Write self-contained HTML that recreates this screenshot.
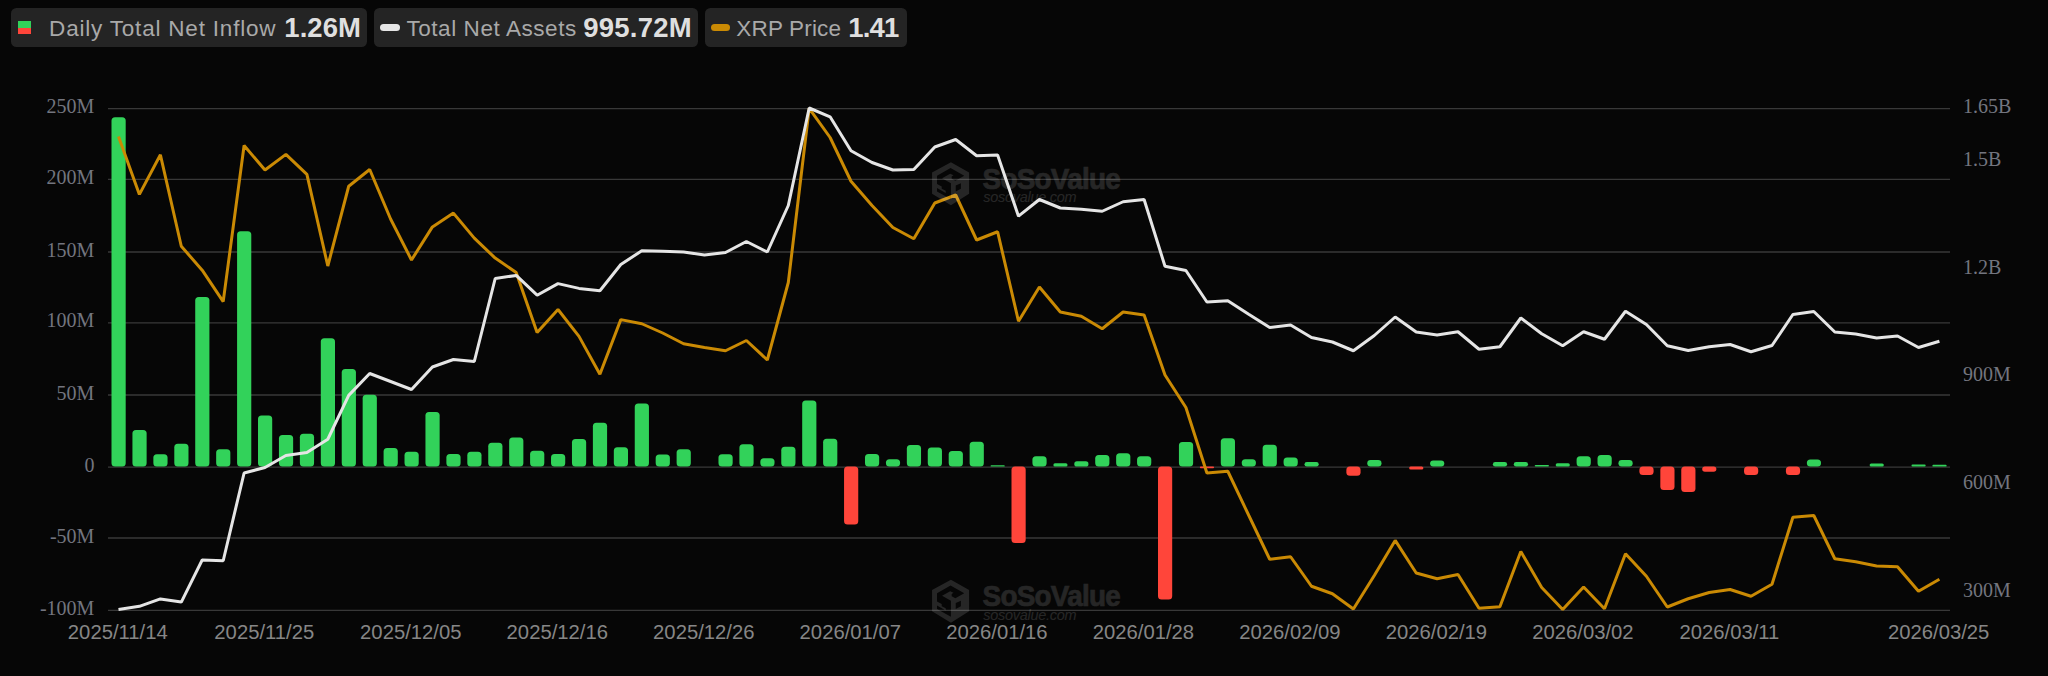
<!DOCTYPE html>
<html lang="en"><head><meta charset="utf-8"><title>XRP ETF Net Inflow</title>
<style>
html,body{margin:0;padding:0;background:#060606;}
body{width:2048px;height:676px;position:relative;overflow:hidden;font-family:"Liberation Sans",sans-serif;}
.chart{position:absolute;left:0;top:0;}
.yl{font-family:"Liberation Serif",serif;font-size:20px;fill:#73757f;}
.xl{font-family:"Liberation Sans",sans-serif;font-size:20.25px;fill:#868686;}
.wm1{font-family:"Liberation Sans",sans-serif;font-weight:700;font-size:29.6px;letter-spacing:-0.75px;stroke:#fff;stroke-width:0.7px;}
.wm2{font-family:"Liberation Sans",sans-serif;font-style:italic;font-size:14.5px;letter-spacing:-0.27px;}
.pill{position:absolute;top:8px;height:38.5px;background:#242424;border-radius:5.5px;}
.pill span{position:absolute;white-space:nowrap;line-height:1;}
.lab{font-size:22.5px;color:#a9a9a9;top:10px;}
.val{font-size:27.5px;font-weight:700;color:#dfdfdf;top:6.0px;}
.ic{position:absolute;}
</style></head><body>
<svg class="chart" width="2048" height="676" viewBox="0 0 2048 676">
<line x1="108" x2="1950" y1="108.6" y2="108.6" stroke="#383838" stroke-width="1.3"/>
<line x1="108" x2="1950" y1="179.4" y2="179.4" stroke="#383838" stroke-width="1.3"/>
<line x1="108" x2="1950" y1="252" y2="252" stroke="#383838" stroke-width="1.3"/>
<line x1="108" x2="1950" y1="322.8" y2="322.8" stroke="#383838" stroke-width="1.3"/>
<line x1="108" x2="1950" y1="395" y2="395" stroke="#383838" stroke-width="1.3"/>
<line x1="108" x2="1950" y1="467.2" y2="467.2" stroke="#383838" stroke-width="1.3"/>
<line x1="108" x2="1950" y1="538" y2="538" stroke="#383838" stroke-width="1.3"/>
<line x1="108" x2="1950" y1="610.4" y2="610.4" stroke="#383838" stroke-width="1.3"/>
<rect x="111.50" y="117.25" width="14.2" height="349.35" rx="3.50" fill="#32d25a"/>
<rect x="132.43" y="430.00" width="14.2" height="36.60" rx="3.50" fill="#32d25a"/>
<rect x="153.36" y="454.25" width="14.2" height="12.35" rx="3.50" fill="#32d25a"/>
<rect x="174.29" y="443.75" width="14.2" height="22.85" rx="3.50" fill="#32d25a"/>
<rect x="195.22" y="297.00" width="14.2" height="169.60" rx="3.50" fill="#32d25a"/>
<rect x="216.15" y="449.25" width="14.2" height="17.35" rx="3.50" fill="#32d25a"/>
<rect x="237.08" y="231.25" width="14.2" height="235.35" rx="3.50" fill="#32d25a"/>
<rect x="258.01" y="415.50" width="14.2" height="51.10" rx="3.50" fill="#32d25a"/>
<rect x="278.94" y="435.00" width="14.2" height="31.60" rx="3.50" fill="#32d25a"/>
<rect x="299.87" y="433.75" width="14.2" height="32.85" rx="3.50" fill="#32d25a"/>
<rect x="320.80" y="338.25" width="14.2" height="128.35" rx="3.50" fill="#32d25a"/>
<rect x="341.73" y="369.00" width="14.2" height="97.60" rx="3.50" fill="#32d25a"/>
<rect x="362.66" y="394.80" width="14.2" height="71.80" rx="3.50" fill="#32d25a"/>
<rect x="383.59" y="448.00" width="14.2" height="18.60" rx="3.50" fill="#32d25a"/>
<rect x="404.52" y="451.75" width="14.2" height="14.85" rx="3.50" fill="#32d25a"/>
<rect x="425.45" y="412.00" width="14.2" height="54.60" rx="3.50" fill="#32d25a"/>
<rect x="446.38" y="454.00" width="14.2" height="12.60" rx="3.50" fill="#32d25a"/>
<rect x="467.31" y="451.75" width="14.2" height="14.85" rx="3.50" fill="#32d25a"/>
<rect x="488.24" y="442.80" width="14.2" height="23.80" rx="3.50" fill="#32d25a"/>
<rect x="509.17" y="437.50" width="14.2" height="29.10" rx="3.50" fill="#32d25a"/>
<rect x="530.10" y="450.75" width="14.2" height="15.85" rx="3.50" fill="#32d25a"/>
<rect x="551.03" y="454.00" width="14.2" height="12.60" rx="3.50" fill="#32d25a"/>
<rect x="571.96" y="439.00" width="14.2" height="27.60" rx="3.50" fill="#32d25a"/>
<rect x="592.89" y="422.75" width="14.2" height="43.85" rx="3.50" fill="#32d25a"/>
<rect x="613.82" y="447.25" width="14.2" height="19.35" rx="3.50" fill="#32d25a"/>
<rect x="634.75" y="403.50" width="14.2" height="63.10" rx="3.50" fill="#32d25a"/>
<rect x="655.68" y="454.50" width="14.2" height="12.10" rx="3.50" fill="#32d25a"/>
<rect x="676.61" y="449.25" width="14.2" height="17.35" rx="3.50" fill="#32d25a"/>
<rect x="718.47" y="454.25" width="14.2" height="12.35" rx="3.50" fill="#32d25a"/>
<rect x="739.40" y="444.25" width="14.2" height="22.35" rx="3.50" fill="#32d25a"/>
<rect x="760.33" y="458.25" width="14.2" height="8.35" rx="3.50" fill="#32d25a"/>
<rect x="781.26" y="446.75" width="14.2" height="19.85" rx="3.50" fill="#32d25a"/>
<rect x="802.19" y="400.50" width="14.2" height="66.10" rx="3.50" fill="#32d25a"/>
<rect x="823.12" y="438.75" width="14.2" height="27.85" rx="3.50" fill="#32d25a"/>
<rect x="844.05" y="466.40" width="14.2" height="58.10" rx="3.50" fill="#ff453a"/>
<rect x="864.98" y="454.00" width="14.2" height="12.60" rx="3.50" fill="#32d25a"/>
<rect x="885.91" y="459.25" width="14.2" height="7.35" rx="3.50" fill="#32d25a"/>
<rect x="906.84" y="445.00" width="14.2" height="21.60" rx="3.50" fill="#32d25a"/>
<rect x="927.77" y="447.50" width="14.2" height="19.10" rx="3.50" fill="#32d25a"/>
<rect x="948.70" y="451.00" width="14.2" height="15.60" rx="3.50" fill="#32d25a"/>
<rect x="969.63" y="441.75" width="14.2" height="24.85" rx="3.50" fill="#32d25a"/>
<rect x="990.56" y="465.20" width="14.2" height="1.40" rx="0.70" fill="#32d25a"/>
<rect x="1011.49" y="466.40" width="14.2" height="76.60" rx="3.50" fill="#ff453a"/>
<rect x="1032.42" y="456.25" width="14.2" height="10.35" rx="3.50" fill="#32d25a"/>
<rect x="1053.35" y="463.25" width="14.2" height="3.35" rx="1.68" fill="#32d25a"/>
<rect x="1074.28" y="461.25" width="14.2" height="5.35" rx="2.68" fill="#32d25a"/>
<rect x="1095.21" y="455.00" width="14.2" height="11.60" rx="3.50" fill="#32d25a"/>
<rect x="1116.14" y="453.25" width="14.2" height="13.35" rx="3.50" fill="#32d25a"/>
<rect x="1137.07" y="456.25" width="14.2" height="10.35" rx="3.50" fill="#32d25a"/>
<rect x="1158.00" y="466.40" width="14.2" height="133.10" rx="3.50" fill="#ff453a"/>
<rect x="1178.93" y="442.00" width="14.2" height="24.60" rx="3.50" fill="#32d25a"/>
<rect x="1199.86" y="466.40" width="14.2" height="1.80" rx="0.90" fill="#ff453a"/>
<rect x="1220.79" y="438.25" width="14.2" height="28.35" rx="3.50" fill="#32d25a"/>
<rect x="1241.72" y="459.25" width="14.2" height="7.35" rx="3.50" fill="#32d25a"/>
<rect x="1262.65" y="444.75" width="14.2" height="21.85" rx="3.50" fill="#32d25a"/>
<rect x="1283.58" y="457.50" width="14.2" height="9.10" rx="3.50" fill="#32d25a"/>
<rect x="1304.51" y="462.00" width="14.2" height="4.60" rx="2.30" fill="#32d25a"/>
<rect x="1346.37" y="466.40" width="14.2" height="9.35" rx="3.50" fill="#ff453a"/>
<rect x="1367.30" y="460.00" width="14.2" height="6.60" rx="3.30" fill="#32d25a"/>
<rect x="1409.16" y="466.40" width="14.2" height="3.10" rx="1.55" fill="#ff453a"/>
<rect x="1430.09" y="460.50" width="14.2" height="6.10" rx="3.05" fill="#32d25a"/>
<rect x="1492.88" y="462.00" width="14.2" height="4.60" rx="2.30" fill="#32d25a"/>
<rect x="1513.81" y="462.00" width="14.2" height="4.60" rx="2.30" fill="#32d25a"/>
<rect x="1534.74" y="465.00" width="14.2" height="1.60" rx="0.80" fill="#32d25a"/>
<rect x="1555.67" y="463.25" width="14.2" height="3.35" rx="1.68" fill="#32d25a"/>
<rect x="1576.60" y="456.25" width="14.2" height="10.35" rx="3.50" fill="#32d25a"/>
<rect x="1597.53" y="455.00" width="14.2" height="11.60" rx="3.50" fill="#32d25a"/>
<rect x="1618.46" y="460.00" width="14.2" height="6.60" rx="3.30" fill="#32d25a"/>
<rect x="1639.39" y="466.40" width="14.2" height="8.60" rx="3.50" fill="#ff453a"/>
<rect x="1660.32" y="466.40" width="14.2" height="23.60" rx="3.50" fill="#ff453a"/>
<rect x="1681.25" y="466.40" width="14.2" height="25.60" rx="3.50" fill="#ff453a"/>
<rect x="1702.18" y="466.40" width="14.2" height="5.35" rx="2.68" fill="#ff453a"/>
<rect x="1744.04" y="466.40" width="14.2" height="8.60" rx="3.50" fill="#ff453a"/>
<rect x="1785.90" y="466.40" width="14.2" height="8.60" rx="3.50" fill="#ff453a"/>
<rect x="1806.83" y="459.50" width="14.2" height="7.10" rx="3.50" fill="#32d25a"/>
<rect x="1869.62" y="463.50" width="14.2" height="3.10" rx="1.55" fill="#32d25a"/>
<rect x="1911.48" y="464.50" width="14.2" height="2.10" rx="1.05" fill="#32d25a"/>
<rect x="1932.41" y="464.75" width="14.2" height="1.85" rx="0.93" fill="#32d25a"/>
<path d="M118.5 136.40 L139.4 194.40 L160.4 154.80 L181.3 246.25 L202.2 270.20 L223.2 301.60 L244.1 145.50 L265.0 170.00 L285.9 154.40 L306.9 174.40 L327.8 266.00 L348.7 186.25 L369.7 169.50 L390.6 219.00 L411.5 260.00 L432.4 226.90 L453.4 213.10 L474.3 238.10 L495.2 258.10 L516.2 272.50 L537.1 332.50 L558.0 309.50 L579.0 336.40 L599.9 374.30 L620.8 319.60 L641.8 323.75 L662.7 333.00 L683.6 343.75 L704.5 347.50 L725.5 350.75 L746.4 340.50 L767.3 360.00 L788.3 282.50 L809.2 108.30 L830.1 137.50 L851.0 181.25 L872.0 205.50 L892.9 227.50 L913.8 238.75 L934.8 203.00 L955.7 195.00 L976.6 240.00 L997.6 231.75 L1018.5 321.25 L1039.4 287.00 L1060.3 312.00 L1081.3 316.25 L1102.2 328.75 L1123.1 312.00 L1144.1 315.00 L1165.0 375.00 L1185.9 407.50 L1206.9 473.00 L1227.8 471.25 L1248.7 515.25 L1269.7 559.25 L1290.6 556.75 L1311.5 586.25 L1332.4 593.75 L1353.4 609.00 L1374.3 575.50 L1395.2 540.40 L1416.2 573.00 L1437.1 578.75 L1458.0 574.50 L1479.0 608.25 L1499.9 606.75 L1520.8 551.50 L1541.7 587.50 L1562.7 609.50 L1583.6 587.00 L1604.5 608.75 L1625.5 553.75 L1646.4 576.25 L1667.3 607.00 L1688.2 598.75 L1709.2 592.50 L1730.1 589.50 L1751.0 596.25 L1772.0 584.25 L1792.9 517.25 L1813.8 515.50 L1834.8 558.75 L1855.7 561.75 L1876.6 566.00 L1897.5 566.75 L1918.5 591.25 L1939.4 579.25" fill="none" stroke="#ca8a04" stroke-width="3" stroke-linejoin="bevel" stroke-linecap="butt"/>
<path d="M118.5 609.50 L139.4 606.30 L160.4 598.90 L181.3 602.10 L202.2 560.00 L223.2 560.75 L244.1 473.00 L265.0 467.50 L285.9 455.50 L306.9 452.50 L327.8 439.25 L348.7 395.40 L369.7 373.50 L390.6 381.50 L411.5 389.50 L432.4 367.00 L453.4 359.50 L474.3 361.50 L495.2 278.50 L516.2 275.40 L537.1 295.20 L558.0 283.60 L579.0 288.40 L599.9 290.80 L620.8 264.50 L641.8 250.75 L662.7 251.25 L683.6 251.90 L704.5 255.10 L725.5 252.50 L746.4 241.50 L767.3 252.00 L788.3 205.50 L809.2 108.00 L830.1 116.80 L851.0 150.75 L872.0 162.50 L892.9 170.00 L913.8 169.50 L934.8 147.00 L955.7 139.50 L976.6 155.75 L997.6 155.00 L1018.5 216.20 L1039.4 199.50 L1060.3 208.00 L1081.3 209.25 L1102.2 211.25 L1123.1 201.75 L1144.1 199.50 L1165.0 266.25 L1185.9 270.50 L1206.9 302.00 L1227.8 300.75 L1248.7 314.25 L1269.7 327.50 L1290.6 325.00 L1311.5 337.50 L1332.4 342.00 L1353.4 350.75 L1374.3 335.50 L1395.2 317.00 L1416.2 332.00 L1437.1 335.00 L1458.0 331.75 L1479.0 349.25 L1499.9 346.75 L1520.8 318.00 L1541.7 333.75 L1562.7 345.75 L1583.6 331.75 L1604.5 339.25 L1625.5 311.25 L1646.4 324.50 L1667.3 345.75 L1688.2 350.50 L1709.2 346.75 L1730.1 344.50 L1751.0 351.75 L1772.0 345.50 L1792.9 314.50 L1813.8 311.50 L1834.8 332.00 L1855.7 334.00 L1876.6 338.00 L1897.5 336.00 L1918.5 347.50 L1939.4 341.25" fill="none" stroke="#e5e5e5" stroke-width="3" stroke-linejoin="bevel" stroke-linecap="butt"/>
<text class="yl" x="94.4" y="113.1" text-anchor="end">250M</text>
<text class="yl" x="94.4" y="183.9" text-anchor="end">200M</text>
<text class="yl" x="94.4" y="256.5" text-anchor="end">150M</text>
<text class="yl" x="94.4" y="327.3" text-anchor="end">100M</text>
<text class="yl" x="94.4" y="399.5" text-anchor="end">50M</text>
<text class="yl" x="94.4" y="471.7" text-anchor="end">0</text>
<text class="yl" x="94.4" y="542.5" text-anchor="end">-50M</text>
<text class="yl" x="94.4" y="614.9" text-anchor="end">-100M</text>
<text class="yl" x="1963" y="113.3">1.65B</text>
<text class="yl" x="1963" y="166.3">1.5B</text>
<text class="yl" x="1963" y="273.5">1.2B</text>
<text class="yl" x="1963" y="381.0">900M</text>
<text class="yl" x="1963" y="488.7">600M</text>
<text class="yl" x="1963" y="596.7">300M</text>
<text class="xl" x="117.8" y="639.2" text-anchor="middle">2025/11/14</text>
<text class="xl" x="264.3" y="639.2" text-anchor="middle">2025/11/25</text>
<text class="xl" x="410.8" y="639.2" text-anchor="middle">2025/12/05</text>
<text class="xl" x="557.3" y="639.2" text-anchor="middle">2025/12/16</text>
<text class="xl" x="703.8" y="639.2" text-anchor="middle">2025/12/26</text>
<text class="xl" x="850.3" y="639.2" text-anchor="middle">2026/01/07</text>
<text class="xl" x="996.9" y="639.2" text-anchor="middle">2026/01/16</text>
<text class="xl" x="1143.4" y="639.2" text-anchor="middle">2026/01/28</text>
<text class="xl" x="1289.9" y="639.2" text-anchor="middle">2026/02/09</text>
<text class="xl" x="1436.4" y="639.2" text-anchor="middle">2026/02/19</text>
<text class="xl" x="1582.9" y="639.2" text-anchor="middle">2026/03/02</text>
<text class="xl" x="1729.4" y="639.2" text-anchor="middle">2026/03/11</text>
<text class="xl" x="1938.7" y="639.2" text-anchor="middle">2026/03/25</text>
<g transform="translate(932 162.3)" fill="#ffffff" opacity="0.125">
<path fill-rule="evenodd" d="M18.93 0 L37.1 10.25 L37.1 31.55 L18.93 42.85 L0.05 31.55 L0.05 10.25 Z M5.02 13.36 L18.56 5.67 L32.24 13.36 L23.37 18.39 L19.67 16.54 L19.67 14.32 L21.52 13.06 L18.19 11.36 L10.05 16.02 L18.93 20.98 L18.93 36.9 L5.02 29.1 Z M5.02 21.7 L9.7 24.2 L9.7 26.4 L13.7 28.5 L13.7 30.6 L5.02 25.8 Z M23.74 23.2 L28.9 20.98 L28.9 26.5 L23.74 29.1 Z"/>
<text class="wm1" transform="translate(50.6 26.2) scale(0.94 1)">SoSoValue</text>
<text class="wm2" x="51.2" y="40.05">sosovalue.com</text>
</g>
<g transform="translate(932 579.8)" fill="#ffffff" opacity="0.125">
<path fill-rule="evenodd" d="M18.93 0 L37.1 10.25 L37.1 31.55 L18.93 42.85 L0.05 31.55 L0.05 10.25 Z M5.02 13.36 L18.56 5.67 L32.24 13.36 L23.37 18.39 L19.67 16.54 L19.67 14.32 L21.52 13.06 L18.19 11.36 L10.05 16.02 L18.93 20.98 L18.93 36.9 L5.02 29.1 Z M5.02 21.7 L9.7 24.2 L9.7 26.4 L13.7 28.5 L13.7 30.6 L5.02 25.8 Z M23.74 23.2 L28.9 20.98 L28.9 26.5 L23.74 29.1 Z"/>
<text class="wm1" transform="translate(50.6 26.2) scale(0.94 1)">SoSoValue</text>
<text class="wm2" x="51.2" y="40.05">sosovalue.com</text>
</g>
</svg>
<div class="pill" style="left:11.3px;width:356.2px"><i class="ic" style="left:6.5px;top:13px;width:13px;height:6.7px;background:#32d25a"></i><i class="ic" style="left:6.5px;top:19.7px;width:13px;height:6.7px;background:#ff453a"></i><span class="lab" id="l1" style="left:37.80px;letter-spacing:0.80px">Daily Total Net Inflow</span><span class="val" id="v1" style="left:273.00px;letter-spacing:0.07px">1.26M</span></div>
<div class="pill" style="left:374px;width:324px"><i class="ic" style="left:6.2px;top:16px;width:19.8px;height:7px;border-radius:3.5px;background:#e5e5e5"></i><span class="lab" id="l2" style="left:32.40px;letter-spacing:0.57px">Total Net Assets</span><span class="val" id="v2" style="left:209.20px;letter-spacing:0.26px">995.72M</span></div>
<div class="pill" style="left:705px;width:202px"><i class="ic" style="left:6px;top:16px;width:19.4px;height:7px;border-radius:3.5px;background:#ca8a04"></i><span class="lab" id="l3" style="left:31.30px;letter-spacing:0.17px">XRP Price</span><span class="val" id="v3" style="left:143.20px;letter-spacing:-0.80px">1.41</span></div>
</body></html>
